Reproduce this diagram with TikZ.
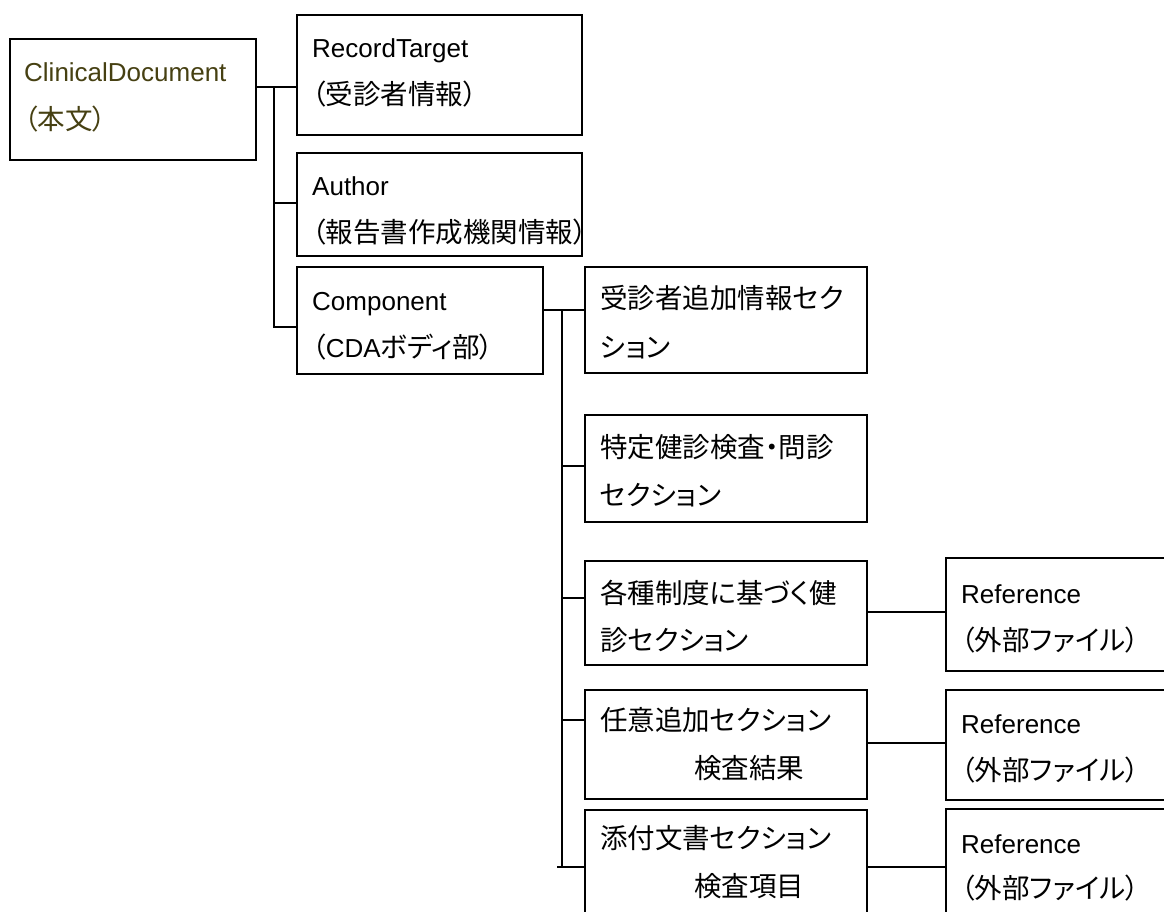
\documentclass[tikz,border=0pt]{standalone}
\usepackage{fontspec}
\setmainfont{Liberation Sans}
\newfontfamily\jpfont[RawFeature=+palt]{Noto Sans CJK JP}
\newcommand\jtxt[1]{{\fontsize{27.5}{30}\jpfont #1}}
\definecolor{cdtext}{RGB}{70,64,18}
\begin{document}
\begin{tikzpicture}[x=1pt,y=-1pt,
  box/.style={draw, line width=1.8pt, anchor=north west, inner sep=0pt},
  txt/.style={anchor=base west, inner sep=0pt, font=\fontsize{26}{30}\selectfont},
  link/.style={draw, line width=1.8pt}]
\useasboundingbox (0,0) rectangle (1164,912);
\fill[white] (0,0) rectangle (1164,912);
\clip (0,0) rectangle (1164,912);

% boxes
\node[box, minimum width=246pt, minimum height=121pt] (cd) at (9,38) {};
\node[box, minimum width=285pt, minimum height=120pt] (rt) at (296,14) {};
\node[box, minimum width=285pt, minimum height=103pt] (au) at (296,152) {};
\node[box, minimum width=246pt, minimum height=107pt] (comp) at (296,266) {};
\node[box, minimum width=282pt, minimum height=106pt] (s1) at (584,266) {};
\node[box, minimum width=282pt, minimum height=107pt] (s2) at (584,414) {};
\node[box, minimum width=282pt, minimum height=104pt] (s3) at (584,560) {};
\node[box, minimum width=282pt, minimum height=109pt] (s4) at (584,689) {};
\node[box, minimum width=282pt, minimum height=130pt] (s5) at (584,809) {};
\node[box, minimum width=240pt, minimum height=113pt] (r1) at (945,557) {};
\node[box, minimum width=240pt, minimum height=110pt] (r2) at (945,689) {};
\node[box, minimum width=240pt, minimum height=130pt] (r3) at (945,808) {};

% texts
\node[txt, text=cdtext] (cdA) at (24,82) {ClinicalDocument};
\node[txt, text=cdtext] (cdB) at (24,130) {\jtxt{（本文）}};
\node[txt] (rtA) at (312,58) {RecordTarget};
\node[txt] (rtB) at (312,105) {\jtxt{（受診者情報）}};
\node[txt] (auA) at (312,196) {Author};
\node[txt] (auB) at (312,242) {\jtxt{（報告書作成機関情報）}};
\node[txt] (compA) at (312,310) {Component};
\node[txt] (compB) at (312,357) {\jtxt{（}CDA\jtxt{ボディ部）}};
\node[txt] (s1A) at (600,308) {\jtxt{受診者追加情報セク}};
\node[txt] (s1B) at (600,357) {\jtxt{ション}};
\node[txt] (s2A) at (600,457) {\jtxt{特定健診検査・問診}};
\node[txt] (s2B) at (600,505) {\jtxt{セクション}};
\node[txt] (s3A) at (600,603) {\jtxt{各種制度に基づく健}};
\node[txt] (s3B) at (600,650) {\jtxt{診セクション}};
\node[txt] (s4A) at (600,730) {\jtxt{任意追加セクション}};
\node[txt] (s4B) at (694,778) {\jtxt{検査結果}};
\node[txt] (s5A) at (600,848) {\jtxt{添付文書セクション}};
\node[txt] (s5B) at (694,896) {\jtxt{検査項目}};
\node[txt] (r1A) at (961,603) {Reference};
\node[txt] (r1B) at (961,650) {\jtxt{（外部ファイル）}};
\node[txt] (r2A) at (961,733) {Reference};
\node[txt] (r2B) at (961,780) {\jtxt{（外部ファイル）}};
\node[txt] (r3A) at (961,853) {Reference};
\node[txt] (r3B) at (961,898) {\jtxt{（外部ファイル）}};

% connectors, level 1
\coordinate (j1) at (274,87);
\coordinate (j1a) at (274,203);
\coordinate (j1b) at (274,327);
\path[link] (cd.east |- j1) -- (rt.west |- j1);
\path[link] (j1) -- (j1b) -- (comp.west |- j1b);
\path[link] (j1a) -- (au.west |- j1a);

% connectors, level 2
\coordinate (j2) at (562,310);
\coordinate (j2a) at (562,466);
\coordinate (j2b) at (562,598);
\coordinate (j2c) at (562,720);
\coordinate (j2d) at (562,867);
\coordinate (j2e) at (557,867);
\path[link] (comp.east |- j2) -- (s1.west |- j2);
\path[link] (j2) -- (j2d);
\path[link] (j2a) -- (s2.west |- j2a);
\path[link] (j2b) -- (s3.west |- j2b);
\path[link] (j2c) -- (s4.west |- j2c);
\path[link] (j2e) -- (s5.west |- j2e);

% connectors, level 3
\coordinate (k1) at (900,612);
\coordinate (k2) at (900,743);
\coordinate (k3) at (900,867);
\path[link] (s3.east |- k1) -- (r1.west |- k1);
\path[link] (s4.east |- k2) -- (r2.west |- k2);
\path[link] (s5.east |- k3) -- (r3.west |- k3);
\end{tikzpicture}
\end{document}
